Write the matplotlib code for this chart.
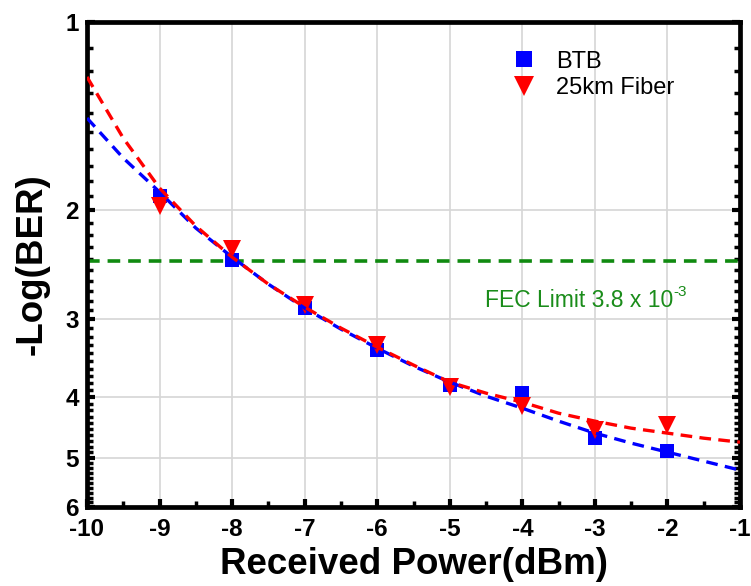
import numpy as np
import matplotlib
matplotlib.use('Agg')
import matplotlib.pyplot as plt
from matplotlib.ticker import FixedLocator, NullFormatter, MultipleLocator

plt.rcParams['font.family'] = ['Liberation Sans', 'DejaVu Sans']
plt.rcParams['axes.unicode_minus'] = False

# measured points
power = [-9, -8, -7, -6, -5, -4, -3, -2]
btb_ber = [1.90, 2.41, 2.88, 3.36, 3.83, 3.94, 4.65, 4.88]
fiber_ber = [1.97, 2.31, 2.85, 3.30, 3.85, 4.13, 4.52, 4.44]

# fitted curves
fit_power = [-10, -9.5, -9, -8.5, -8, -7.5, -7, -6.5, -6, -5.5,
             -5, -4.5, -4, -3.5, -3, -2.5, -2, -1.5, -1]
btb_fit = [1.426, 1.653, 1.874, 2.141, 2.384, 2.634, 2.878, 3.110, 3.337, 3.566,
           3.783, 3.984, 4.165, 4.369, 4.567, 4.739, 4.899, 5.065, 5.236]
fiber_fit = [1.225, 1.536, 1.847, 2.125, 2.384, 2.634, 2.867, 3.098, 3.324, 3.552,
             3.783, 3.940, 4.074, 4.243, 4.369, 4.484, 4.567, 4.653, 4.722]

fec_limit = -np.log10(3.8e-3)

y_major = [1, 2, 3, 4, 5, 6]
y_minor = [round(1 + 0.1 * i, 1) for i in range(51)]


def forward(v):
    return np.log10(np.clip(v, 1e-6, None))


def inverse(v):
    return 10 ** v


fig = plt.figure(figsize=(7.51, 5.86), dpi=100)
ax = fig.add_axes([87 / 751, 1 - 507 / 586, (740 - 87) / 751, (507 - 22) / 586])

ax.set_yscale('function', functions=(forward, inverse))
ax.set_ylim(6, 1)
ax.set_xlim(-10, -1)

ax.grid(True, which='major', color='#d6d6d6', linewidth=1.2, zorder=0)

ax.axhline(fec_limit, color='#108a10', linestyle=(0, (3.5, 2.2)), linewidth=2.6, zorder=2)

ax.plot(power, btb_ber, linestyle='none', marker='s', markersize=10.5,
        color='#0000ff', markeredgewidth=0, label='BTB', zorder=3)
ax.plot(power, fiber_ber, linestyle='none', marker='v', markersize=13,
        color='#ff0000', markeredgewidth=0, label='25km Fiber', zorder=3)

ax.plot(fit_power, btb_fit, color='#0000ff', linestyle=(0, (3.5, 2.2)), linewidth=2.4, zorder=4)
ax.plot(fit_power, fiber_fit, color='#ff0000', linestyle=(0, (3.5, 2.2)), linewidth=2.4, zorder=4)

# FEC label with a plain hyphen in the exponent
fec_txt = ax.text(-4.52, 2.87, 'FEC Limit 3.8 x 10', color='#1a8c1a', fontsize=16.5,
                  ha='left', va='baseline')
renderer = fig.canvas.get_renderer()
bb = fec_txt.get_window_extent(renderer=renderer)
ax.annotate('-3', xy=(-4.52, 2.87), xycoords='data',
            xytext=(bb.width * 72 / fig.dpi + 0.5, 8), textcoords='offset points',
            color='#1a8c1a', fontsize=11, ha='left', va='baseline')

ax.yaxis.set_major_locator(FixedLocator(y_major))
ax.yaxis.set_minor_locator(FixedLocator(y_minor))
ax.yaxis.set_minor_formatter(NullFormatter())
ax.set_yticklabels([str(v) for v in y_major])
ax.xaxis.set_major_locator(MultipleLocator(1))
ax.xaxis.set_minor_locator(MultipleLocator(0.5))

for s in ax.spines.values():
    s.set_linewidth(3.4)
    s.set_color('black')

ax.tick_params(axis='both', which='major', direction='in', length=6, width=3,
               labelsize=17.5, top=False, right=True, pad=6)
ax.tick_params(axis='x', which='major', pad=8)
ax.tick_params(axis='both', which='minor', direction='in', length=4, width=2.5,
               top=False, right=True)
for lab in ax.get_xticklabels() + ax.get_yticklabels():
    lab.set_fontweight('bold')

ax.set_xlabel('Received Power(dBm)', fontsize=26.5, fontweight='bold', labelpad=4)
ax.set_ylabel('-Log(BER)', fontsize=26.5, fontweight='bold', labelpad=11)

leg = ax.legend(loc='upper left', bbox_to_anchor=(0.612, 0.985), frameon=False,
                fontsize=17, handletextpad=0.65, labelspacing=0.2, handlelength=1.4,
                markerscale=1.1)

fig.savefig('out.png', dpi=100)
